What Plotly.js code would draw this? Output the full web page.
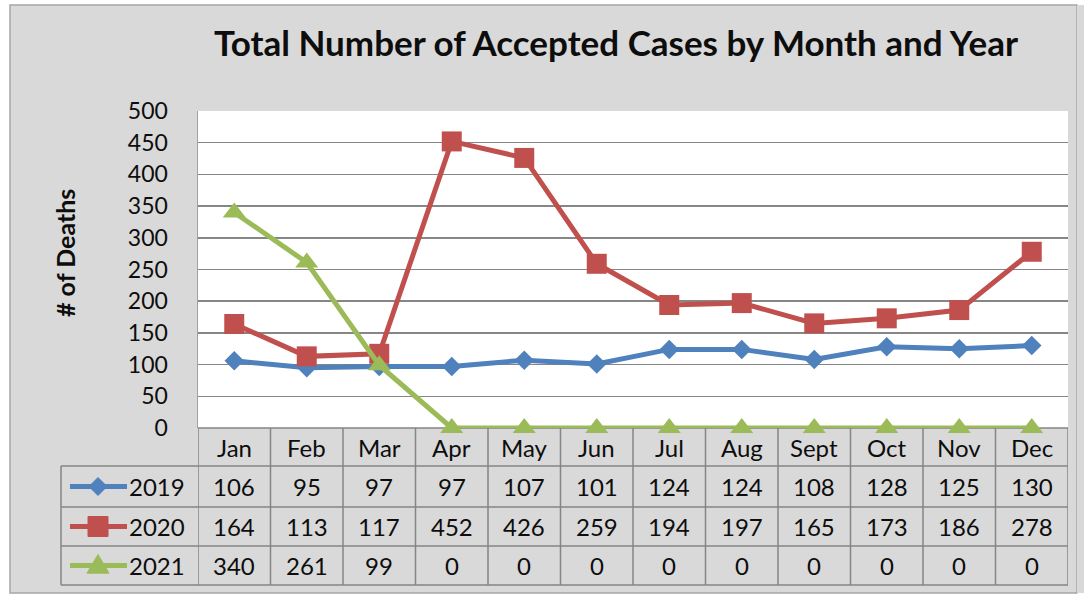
<!DOCTYPE html>
<html><head><meta charset="utf-8">
<script src="https://cdn.plot.ly/plotly-3.0.1.min.js"></script>
<style>html,body{margin:0;padding:0;background:#fff}#chart{width:1084px;height:596px}</style>
</head><body><div id="chart"></div>
<script>
// ---- data ----
const months = ['Jan','Feb','Mar','Apr','May','Jun','Jul','Aug','Sept','Oct','Nov','Dec'];
const seriesNames = ['2019','2020','2021'];
const values2019 = [106,95,97,97,107,101,124,124,108,128,125,130];
const values2020 = [164,113,117,452,426,259,194,197,165,173,186,278];
const values2021 = [340,261,99,0,0,0,0,0,0,0,0,0];
const yTickValues = [0,50,100,150,200,250,300,350,400,450,500];
const chartTitle = 'Total Number of Accepted Cases by Month and Year';
const yTitle = '# of Deaths';

// ---- styling ----
const seriesValues = [values2019, values2020, values2021];
const colors = ['#4F81BD','#C0504D','#9BBB59'];
const symbols = ['diamond','square','triangle-up'];
const msizes = [15,20,20];
const FONT = 'Lato, "Open Sans", sans-serif';
const W = 1084, H = 596;
const L = 198, R = 1068, T = 111, B = 428;
const px = x => (x - L) / (R - L);
const py = y => (B - y) / (B - T);
const gridColor = '#868686';
const tableLine = '#858585';
const textColor = '#0d0d0d';

const traces = seriesNames.map((n, k) => ({
  type: 'scatter', mode: 'lines+markers', name: n,
  x: months, y: seriesValues[k],
  line: {color: colors[k], width: 5},
  marker: {symbol: symbols[k], size: msizes[k], color: colors[k]},
  cliponaxis: false, showlegend: false, hoverinfo: 'x+y+name'
}));

const shapes = [];
const annotations = [];
// outer gray box
shapes.push({type:'rect', layer:'below', xref:'paper', yref:'paper',
  x0: px(10), x1: px(1077), y0: py(5), y1: py(593),
  fillcolor:'#d9d9d9', line:{color:'#a6a6a6', width:1.5}});
shapes.push({type:'rect', layer:'below', xref:'paper', yref:'paper',
  x0: px(1077), x1: px(1090), y0: py(5), y1: py(593),
  fillcolor:'#d9d9d9', line:{width:0}});
// white plot area
shapes.push({type:'rect', layer:'below', xref:'paper', yref:'paper',
  x0: 0, x1: 1, y0: 0, y1: 1, fillcolor:'#ffffff', line:{width:0}});

// table rows (pixel boundaries)
const rowLines = [466, 507, 546, 585];
const headerCenter = 447;
const rowCenters = [486.5, 526.5, 565.5];
const tableLeft = 61;
rowLines.forEach(y => shapes.push({type:'line', layer:'above', xref:'paper', yref:'paper',
  x0: px(tableLeft), x1: 1, y0: py(y), y1: py(y), line:{color: tableLine, width: 1.5}}));
shapes.push({type:'line', layer:'below', xref:'paper', yref:'paper',
  x0: 0, x1: 1, y0: 0, y1: 0, line:{color: tableLine, width: 1.5}});
for (let i = 0; i <= months.length; i++) {
  shapes.push({type:'line', layer:'below', xref:'x', yref:'paper',
    x0: i - 0.5, x1: i - 0.5, y0: 0, y1: py(585), line:{color: tableLine, width: 1.5}});
}
shapes.push({type:'line', layer:'above', xref:'paper', yref:'paper',
  x0: px(tableLeft), x1: px(tableLeft), y0: py(466), y1: py(585), line:{color: tableLine, width: 1.5}});

const cellFont = {family: FONT, size: 24, color: textColor};
months.forEach((m, i) => annotations.push({xref:'x', yref:'paper', x: i, y: py(headerCenter),
  text: m, showarrow:false, xanchor:'center', yanchor:'middle', font: cellFont}));
seriesValues.forEach((vals, k) => {
  vals.forEach((v, i) => annotations.push({xref:'x', yref:'paper', x: i, y: py(rowCenters[k]),
    text: String(v), showarrow:false, xanchor:'center', yanchor:'middle', font: cellFont}));
  annotations.push({xref:'paper', yref:'paper', x: px(157), y: py(rowCenters[k]),
    text: seriesNames[k], showarrow:false, xanchor:'center', yanchor:'middle', font: cellFont});
  shapes.push({type:'line', layer:'above', xref:'paper', yref:'paper',
    x0: px(70), x1: px(127), y0: py(rowCenters[k]), y1: py(rowCenters[k]),
    line:{color: colors[k], width: 5}});
  const cx = 98, cy = rowCenters[k];
  let path;
  if (symbols[k] === 'diamond') {
    const r = 9;
    path = `M${px(cx)},${py(cy-r)} L${px(cx+r)},${py(cy)} L${px(cx)},${py(cy+r)} L${px(cx-r)},${py(cy)} Z`;
  } else if (symbols[k] === 'square') {
    const r = 10;
    path = `M${px(cx-r)},${py(cy-r)} L${px(cx+r)},${py(cy-r)} L${px(cx+r)},${py(cy+r)} L${px(cx-r)},${py(cy+r)} Z`;
  } else {
    const r = 11;
    path = `M${px(cx)},${py(cy-r)} L${px(cx+r)},${py(cy+r*0.7)} L${px(cx-r)},${py(cy+r*0.7)} Z`;
  }
  shapes.push({type:'path', layer:'above', xref:'paper', yref:'paper', path,
    fillcolor: colors[k], line:{color: colors[k], width: 1}});
});
// y axis title
annotations.push({xref:'paper', yref:'paper', x: px(65), y: py(253), text: yTitle, textangle: -90,
  showarrow:false, xanchor:'center', yanchor:'middle',
  font:{family: FONT, size: 25, color: textColor, weight:'bold'}});

const layout = {
  width: W, height: H,
  margin: {l: L, r: W - R, t: T, b: H - B, pad: 0},
  paper_bgcolor: '#ffffff', plot_bgcolor: 'rgba(0,0,0,0)',
  font: {family: FONT, color: textColor},
  title: {text: chartTitle, xref:'container', yref:'container', x: 616/W, y: 1 - 44/H,
    xanchor:'center', yanchor:'middle', font:{family: FONT, size: 35, color: textColor, weight: 'bold'}},
  xaxis: {type:'category', range:[-0.5, months.length - 0.5], showticklabels:false, showgrid:false,
    zeroline:false, showline:false, ticks:''},
  yaxis: {range:[0, 500], tickvals: yTickValues, ticktext: yTickValues.map(String),
    showgrid:true, gridcolor: gridColor, gridwidth: 1.5, zeroline:false,
    showline:true, linecolor:'#a0a0a0', linewidth:1.5,
    ticks:'outside', ticklen: 24, tickcolor:'rgba(0,0,0,0)',
    tickfont:{family: FONT, size: 23, color: textColor}},
  shapes, annotations, showlegend:false
};
Plotly.newPlot('chart', traces, layout, {displayModeBar:false, staticPlot:true});
</script></body></html>
